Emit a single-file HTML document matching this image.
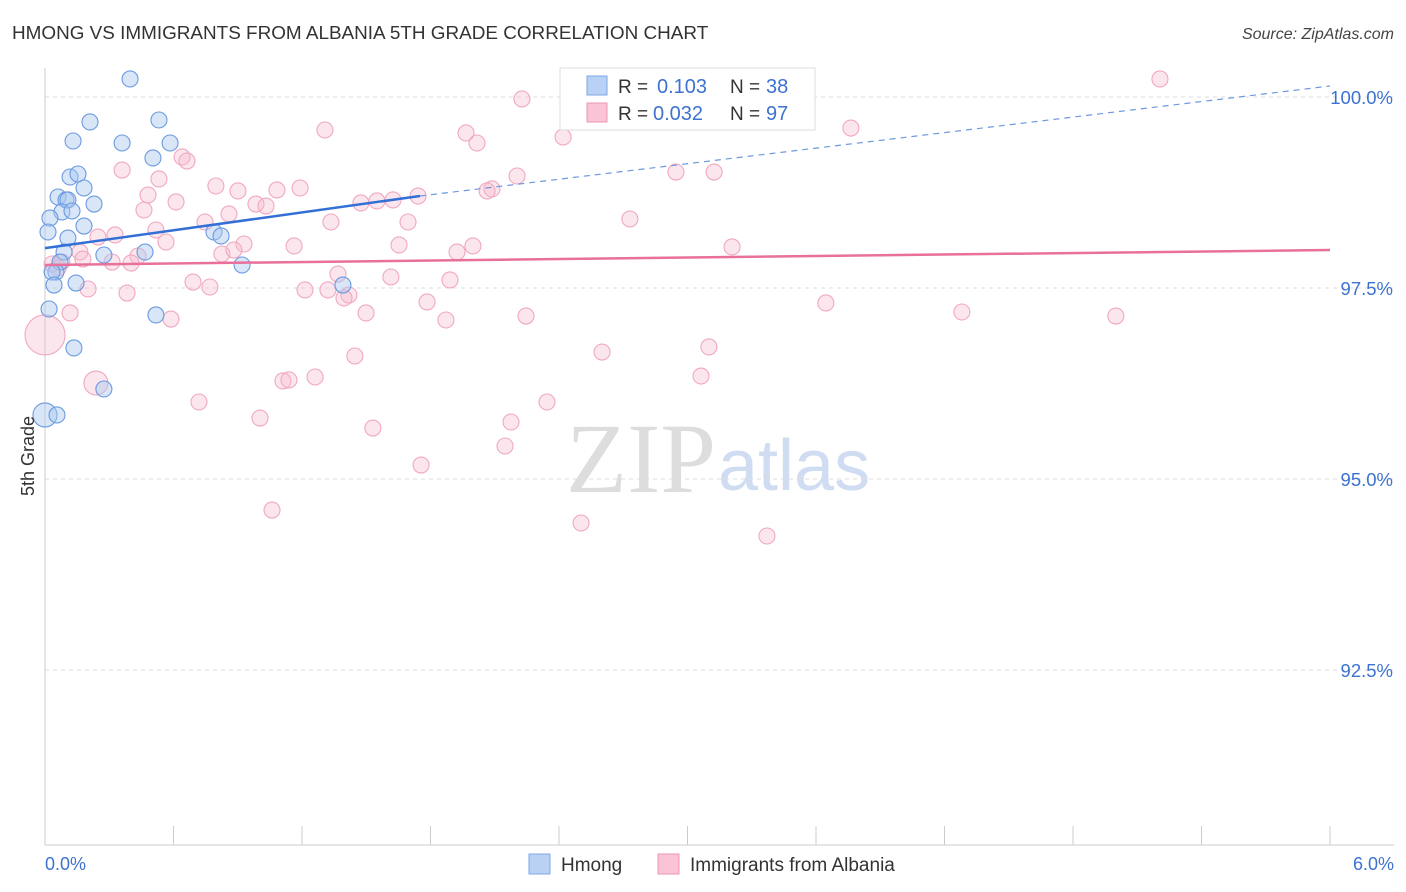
<!DOCTYPE html>
<html><head><meta charset="utf-8"><style>
body{margin:0;background:#fff;font-family:"Liberation Sans",sans-serif;}
svg{display:block}
</style></head><body>
<svg id="chart" width="1406" height="892">
<text x="12" y="39" font-size="18.9" fill="#333">HMONG VS IMMIGRANTS FROM ALBANIA 5TH GRADE CORRELATION CHART</text>
<text x="1394" y="39" font-size="16" fill="#444" text-anchor="end" font-style="italic">Source: ZipAtlas.com</text>
<text x="716" y="492" font-size="100" fill="#ddd" text-anchor="end" font-family="Liberation Serif">ZIP</text>
<text x="718" y="490" font-size="72" fill="#cfdcf2">atlas</text>
<g id="grid"></g><g id="axes"></g><g id="marks"></g>
<text transform="translate(34,456) rotate(-90)" font-size="18" fill="#333" text-anchor="middle">5th Grade</text>
<g>
<rect x="560" y="68" width="255" height="62" fill="#fff" stroke="#ddd"/>
<rect x="587" y="76" width="20" height="19" fill="#b8d1f5" stroke="#7ea6e6"/>
<rect x="587" y="103" width="20" height="19" fill="#fac4d6" stroke="#ee94b2"/>
<text x="618" y="93" font-size="19" fill="#333">R = </text><text x="657" y="93" font-size="20" fill="#3d72d0">0.103</text>
<text x="730" y="93" font-size="19" fill="#333">N = </text><text x="766" y="93" font-size="20" fill="#3d72d0">38</text>
<text x="618" y="120" font-size="19" fill="#333">R = </text><text x="653" y="120" font-size="20" fill="#3d72d0">0.032</text>
<text x="730" y="120" font-size="19" fill="#333">N = </text><text x="766" y="120" font-size="20" fill="#3d72d0">97</text>
</g>
<g>
<rect x="529" y="854" width="21" height="20" fill="#b8d1f5" stroke="#7ea6e6"/>
<text x="561" y="871" font-size="19" fill="#333">Hmong</text>
<rect x="658" y="854" width="21" height="20" fill="#fac4d6" stroke="#ee94b2"/>
<text x="690" y="871" font-size="19" fill="#333">Immigrants from Albania</text>
</g>
</svg>
<script>
const yTicks=[100,97.5,95,92.5];
const yTickLabels=["100.0%","97.5%","95.0%","92.5%"];
const xTickLabels=["0.0%","6.0%"];
const blueX=[.397,.210,.532,.131,.360,.584,.504,.117,.154,.182,.061,.098,.107,.229,.079,.126,.023,.182,.014,.107,.789,.822,.089,.275,.467,.070,.920,.051,.033,.145,.042,1.391,.019,.518,.135,.275,0,.056];
const blueY=[100.236,99.673,99.699,99.424,99.398,99.398,99.202,98.953,98.992,98.809,98.691,98.652,98.652,98.599,98.495,98.508,98.416,98.311,98.233,98.154,98.233,98.181,97.971,97.932,97.971,97.840,97.801,97.709,97.709,97.565,97.539,97.539,97.225,97.147,96.715,96.178,95.838,95.838];
const pinkX=[5.206,2.227,2.577,3.152,1.307,1.966,2.017,3.763,2.419,.640,.663,.360,.532,2.946,3.124,2.204,.798,.481,.901,1.083,1.191,2.087,2.064,.612,.462,.985,1.032,1.475,1.550,1.625,1.742,2.731,.859,.747,1.335,1.695,.518,.247,.327,.565,.929,1.163,1.653,1.998,1.924,3.208,.163,.434,.826,.882,.177,.313,.402,.033,.061,.079,1.368,1.615,1.891,.691,.770,.201,.383,1.214,1.321,1.419,1.396,1.784,3.646,4.281,1.499,.588,1.872,2.246,5.000,.117,0,2.601,3.100,1.447,1.111,1.139,1.261,3.063,.238,.719,2.344,1.004,2.176,1.531,2.148,1.756,1.060,2.503,3.371];
const pinkY=[100.236,99.974,99.817,99.830,99.568,99.529,99.398,99.594,99.476,99.215,99.162,99.044,98.927,99.018,99.018,98.966,98.835,98.717,98.770,98.783,98.809,98.796,98.770,98.626,98.521,98.599,98.573,98.613,98.639,98.652,98.704,98.403,98.469,98.364,98.364,98.364,98.259,98.167,98.194,98.102,98.076,98.050,98.063,98.050,97.971,98.037,97.971,97.919,97.945,97.997,97.879,97.840,97.827,97.814,97.762,97.840,97.683,97.644,97.605,97.578,97.513,97.487,97.434,97.474,97.474,97.408,97.369,97.317,97.304,97.186,97.173,97.094,97.081,97.133,97.133,97.173,96.885,96.662,96.728,96.610,96.283,96.296,96.335,96.348,96.256,96.008,96.008,95.798,95.746,95.667,95.432,95.183,94.594,94.424,94.254];
const blueTrend=[[0,98.022],[1.751,98.704],[6,100.144]];
const pinkTrend=[[0,97.801],[6,97.997]];
const X0=45,X1=1330,Y100=97,PX_PER_PCT=76.4;
const sx=v=>X0+(v/6)*(X1-X0);
const sy=v=>Y100+(100-v)*PX_PER_PCT;
const NS="http://www.w3.org/2000/svg";
function mk(tag,attrs,parent){const e=document.createElementNS(NS,tag);for(const k in attrs)e.setAttribute(k,attrs[k]);parent.appendChild(e);return e;}
const grid=document.getElementById('grid'),axes=document.getElementById('axes'),marks=document.getElementById('marks');
yTicks.forEach((t,i)=>{
 const l=mk('line',{x1:X0,x2:1394,y1:sy(t),y2:sy(t),stroke:'#ddd','stroke-dasharray':'4,4'},grid);
 
 
 const tx=mk('text',{x:1393,y:sy(t)+7,'font-size':18.5,fill:'#3d72d0','text-anchor':'end'},axes);
 tx.textContent=yTickLabels[i];
 
 
});
const ya=mk('line',{x1:X0,x2:X0,y1:68,y2:845,stroke:'#ccc'},axes);


const xa=mk('line',{x1:X0,x2:1394,y1:845,y2:845,stroke:'#ccc'},axes);


for(let i=0;i<=10;i++){const t=mk('line',{x1:sx(i*0.6),x2:sx(i*0.6),y1:826,y2:845,stroke:'#ccc'},axes);
 
 }
[[0,'start',45],[6,'end',1394]].forEach((d,i)=>{const t=mk('text',{x:d[2],y:870,'font-size':18,fill:'#3d72d0','text-anchor':d[1]},axes);t.textContent=xTickLabels[i];
 
 });
function dots(xs,ys,fill,stroke,op,name,big){xs.forEach((v,i)=>{const r=big[i]||8;const c=mk('circle',{cx:sx(v),cy:sy(ys[i]),r:r,fill:fill,'fill-opacity':op,stroke:stroke,'stroke-width':1.1},marks);
 
 });}
dots(pinkX,pinkY,'#f7b8cc','#f0a8c0',0.35,'albania-point',{76:20,84:12});
dots(blueX,blueY,'#a9c7f0','#6a9ae0',0.45,'hmong-point',{36:12});
const pl=mk('line',{x1:sx(pinkTrend[0][0]),y1:sy(pinkTrend[0][1]),x2:sx(pinkTrend[1][0]),y2:sy(pinkTrend[1][1]),stroke:'#e8709a','stroke-width':2.5},marks);


const bl=mk('line',{x1:sx(blueTrend[0][0]),y1:sy(blueTrend[0][1]),x2:sx(blueTrend[1][0]),y2:sy(blueTrend[1][1]),stroke:'#3370d6','stroke-width':2.5},marks);


const bd=mk('line',{x1:sx(blueTrend[1][0]),y1:sy(blueTrend[1][1]),x2:sx(blueTrend[2][0]),y2:sy(blueTrend[2][1]),stroke:'#6d98dd','stroke-width':1.2,'stroke-dasharray':'6,5'},marks);


</script>
</body></html>
